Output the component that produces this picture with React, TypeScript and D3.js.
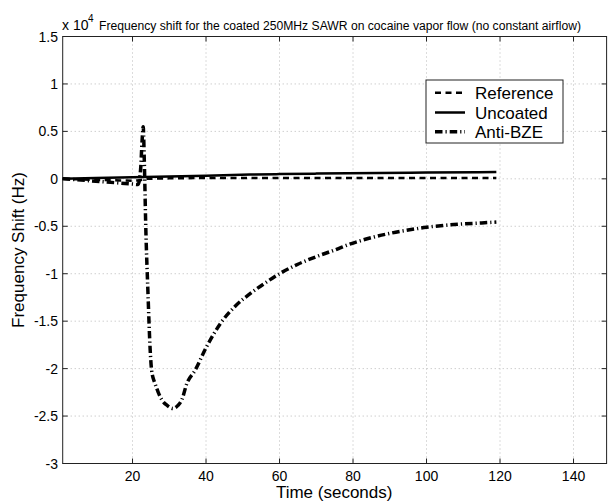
import React from "react";
import * as d3 from "d3";

const refX = [1, 5, 10, 15, 20, 22, 24, 30, 40, 60, 80, 100, 119];
const refY = [0, -0.005, -0.01, -0.015, -0.02, -0.015, 0, 0.005, 0.008, 0.008, 0.008, 0.008, 0.008];

const uncX = [1, 10, 20, 30, 40, 52, 60, 70, 87, 100, 119];
const uncY = [0, 0.008, 0.016, 0.024, 0.033, 0.045, 0.05, 0.055, 0.062, 0.066, 0.072];

const antiX = [1, 5, 10, 15, 20, 21.5, 22.2, 22.6, 22.9, 23.2, 23.6, 24.2, 24.8, 25.2, 26.1, 27, 28, 29.5, 31, 32.3, 33.4, 34.8, 37, 40, 44, 48, 52, 56, 60, 65, 70, 75, 79, 85, 90, 95, 100, 105, 110, 115, 119];
const antiY = [0, -0.01, -0.025, -0.04, -0.055, -0.06, 0.1, 0.4, 0.55, 0.2, -0.5, -1.2, -1.8, -2.02, -2.155, -2.25, -2.33, -2.39, -2.42, -2.39, -2.33, -2.155, -2.02, -1.78, -1.52, -1.34, -1.21, -1.1, -1.0, -0.9, -0.82, -0.75, -0.69, -0.62, -0.575, -0.54, -0.51, -0.49, -0.475, -0.465, -0.455];

const xTicks = [20, 40, 60, 80, 100, 120, 140];
const yTicks = [1.5, 1, 0.5, 0, -0.5, -1, -1.5, -2, -2.5, -3];

const legendNames = ["Reference", "Uncoated", "Anti-BZE"];
const title = "Frequency shift for the coated 250MHz SAWR on cocaine vapor flow (no constant airflow)";

const W = 608, H = 502;
const L = 62.7, R = 606.6, T = 36.5, B = 463.5;
const FONT = "'Liberation Sans', Arial, Helvetica, sans-serif";

const styles = [
  { w: 2.5, dash: "6,4.5" },
  { w: 2.5, dash: "none" },
  { w: 3.5, dash: "7.5,3,1.2,3" },
];

export default function App() {
  const x = d3.scaleLinear().domain([1, 149]).range([L, R]);
  const y = d3.scaleLinear().domain([-3, 1.5]).range([B, T]);
  const mk = (xs: number[], ys: number[]) =>
    d3.line<number>().x((_, i) => x(xs[i])).y((d) => y(d)).curve(d3.curveMonotoneX)(ys) || "";
  const paths = [mk(refX, refY), mk(uncX, uncY), mk(antiX, antiY)];

  const lx = 426, ly = 80, lw = 137, lh = 63;
  const rows = [92.7, 112.5, 131.7];

  return (
    <svg width={W} height={H} style={{ position: "absolute", left: 0, top: 0, background: "#fff" }} fontFamily={FONT}>
      <rect x={0} y={0} width={W} height={H} fill="#fff" />
      {xTicks.map((t) => (
        <line key={"gx" + t} x1={x(t)} x2={x(t)} y1={T} y2={B} stroke="#b8b8b8" strokeWidth={1} strokeDasharray="1,3" />
      ))}
      {yTicks.slice(1, -1).map((t) => (
        <line key={"gy" + t} x1={L} x2={R} y1={y(t)} y2={y(t)} stroke="#b8b8b8" strokeWidth={1} strokeDasharray="1,3" />
      ))}
      {xTicks.map((t) => (
        <g key={"tx" + t}>
          <line x1={x(t)} x2={x(t)} y1={B} y2={B - 5} stroke="#222" />
          <line x1={x(t)} x2={x(t)} y1={T} y2={T + 5} stroke="#222" />
          <text x={x(t)} y={481} fontSize={14} textAnchor="middle" fill="#000">{t}</text>
        </g>
      ))}
      {yTicks.map((t) => (
        <g key={"ty" + t}>
          <line x1={L} x2={L + 5} y1={y(t)} y2={y(t)} stroke="#222" />
          <line x1={R} x2={R - 5} y1={y(t)} y2={y(t)} stroke="#222" />
          <text x={58} y={y(t) + 5} fontSize={14} textAnchor="end" fill="#000">{String(t)}</text>
        </g>
      ))}
      <rect x={L} y={T} width={R - L} height={B - T} fill="none" stroke="#222" strokeWidth={1} />
      {paths.map((p, i) => (
        <path key={"p" + i} d={p} fill="none" stroke="#000" strokeWidth={styles[i].w} strokeDasharray={styles[i].dash} strokeLinejoin="round" />
      ))}
      <rect x={lx} y={ly} width={lw} height={lh} fill="#fff" stroke="#222" strokeWidth={1} />
      {legendNames.map((n, i) => (
        <g key={n}>
          <line x1={435} x2={465} y1={rows[i]} y2={rows[i]} stroke="#000" strokeWidth={styles[i].w} strokeDasharray={styles[i].dash} />
          <text x={475} y={rows[i] + 6} fontSize={17} fill="#000">{n}</text>
        </g>
      ))}
      <text x={62} y={30} fontSize={14} fill="#000">x 10</text>
      <text x={88} y={22} fontSize={10} fill="#000">4</text>
      <text x={99} y={30} fontSize={12} fill="#000" textLength={482} lengthAdjust="spacingAndGlyphs">{title}</text>
      <text x={(L + R) / 2 - 0.5} y={498} fontSize={17} textAnchor="middle" fill="#000">Time (seconds)</text>
      <text transform={`translate(24, ${(T + B) / 2}) rotate(-90)`} fontSize={17} textAnchor="middle" fill="#000">Frequency Shift (Hz)</text>
    </svg>
  );
}
